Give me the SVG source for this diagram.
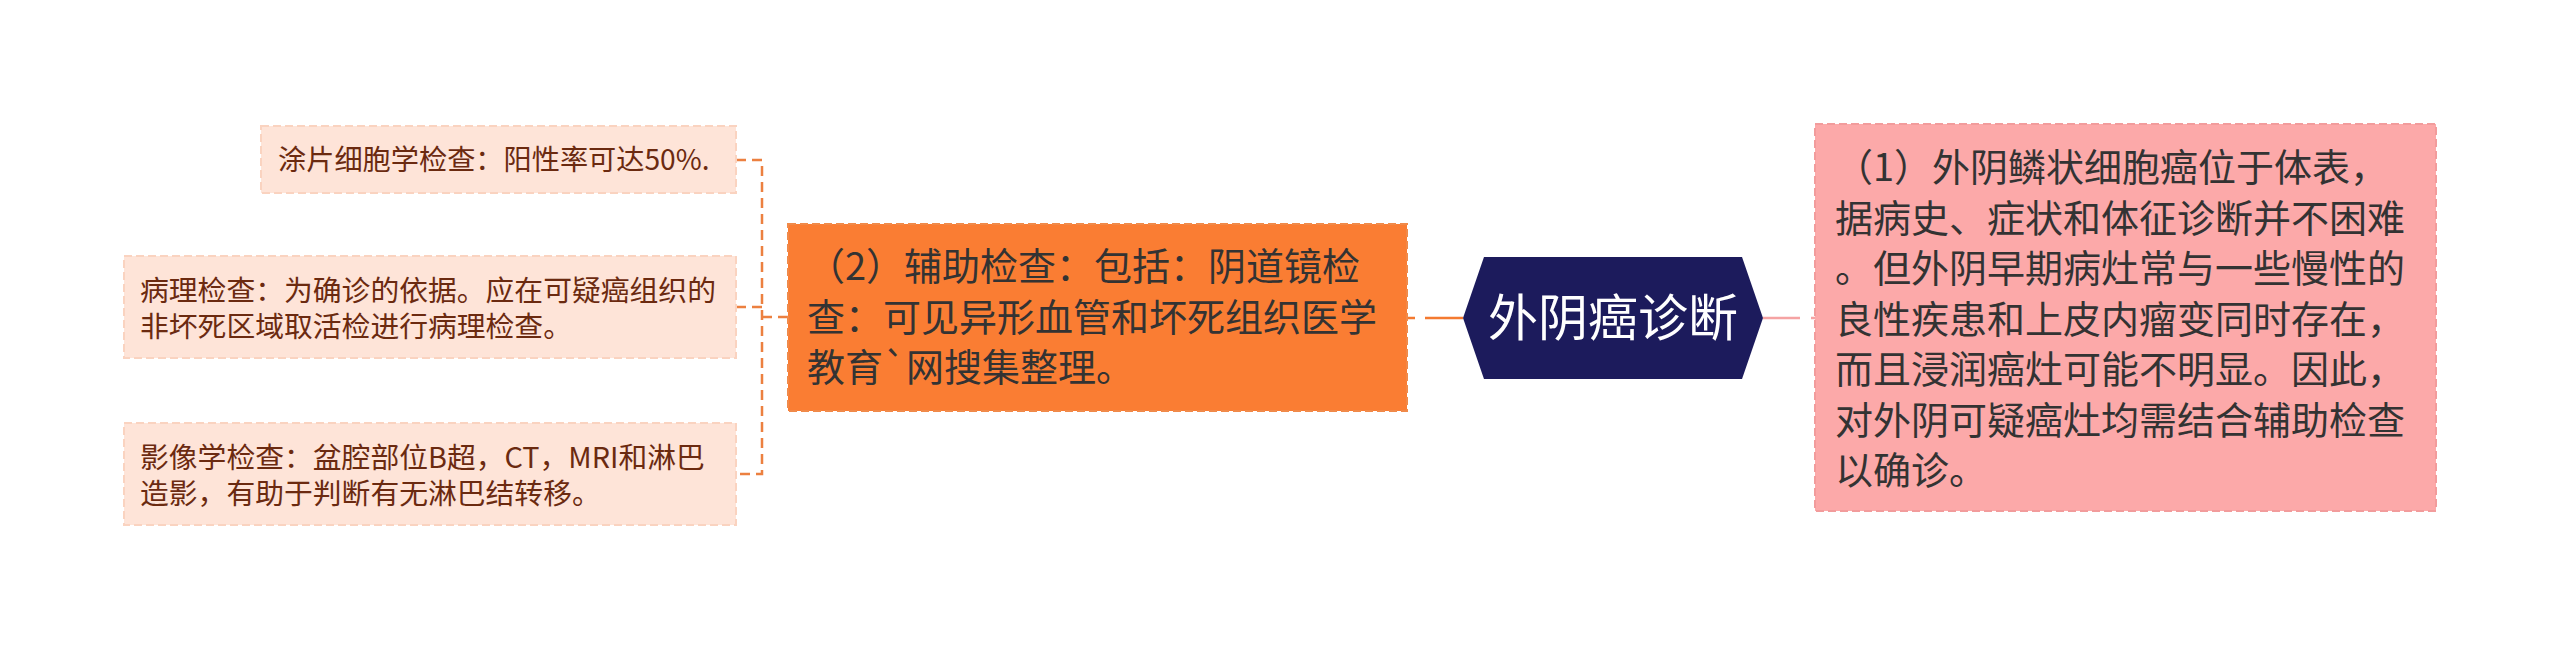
<svg xmlns="http://www.w3.org/2000/svg" width="2560" height="651" viewBox="0 0 2560 651">
<style>
.t{font-family:"Noto Sans CJK SC","Noto Sans",sans-serif}
.leaf rect{fill:#FEE4D8;stroke:#FAD3C0;stroke-width:2;stroke-dasharray:8 4}
.leaf text{font-size:28.8px;fill:#6B2A10}
.big text{font-size:38px;fill:#333333}
.con{fill:none;stroke-width:2.5}
</style>
<rect width="2560" height="651" fill="#ffffff"/>
<g id="connectors">
<path class="con" d="M736 160 H762 V474 H736 M736 307 H762 M762 317 H788" stroke="#EC8040" stroke-dasharray="10 6"/>
<path class="con" d="M1463 318 H1408" stroke="#F47A30" stroke-dasharray="38 10"/>
<path class="con" d="M1763 318 H1815" stroke="#F5A3A3" stroke-dasharray="37 11"/>
</g>
<g id="node-root">
<polygon points="1463,318 1484,257 1742,257 1763,318 1742,379 1484,379" fill="#1C1B5C"/>
<text class="t" x="1613" y="336" text-anchor="middle" font-size="50" fill="#ffffff">外阴癌诊断</text>
</g>
<g id="node-1" class="big">
<rect x="1815" y="124" width="621" height="387" fill="#FCA9A9" stroke="#F29C9C" stroke-width="2" stroke-dasharray="8 4"/>
<text class="t" x="1835" y="181">（1）外阴鳞状细胞癌位于体表，</text>
<text class="t" x="1835" y="231.5">据病史、症状和体征诊断并不困难</text>
<text class="t" x="1835" y="282">。但外阴早期病灶常与一些慢性的</text>
<text class="t" x="1835" y="332.5">良性疾患和上皮内瘤变同时存在，</text>
<text class="t" x="1835" y="383">而且浸润癌灶可能不明显。因此，</text>
<text class="t" x="1835" y="433.5">对外阴可疑癌灶均需结合辅助检查</text>
<text class="t" x="1835" y="484">以确诊。</text>
</g>
<g id="node-2" class="big">
<rect x="788" y="224" width="619" height="187" fill="#FA7D33" stroke="#F08A4A" stroke-width="2" stroke-dasharray="8 4"/>
<text class="t" x="807" y="280">（2）辅助检查：包括：阴道镜检</text>
<text class="t" x="807" y="330.5">查：可见异形血管和坏死组织医学</text>
<text class="t" x="807" y="381">教育`网搜集整理。</text>
</g>
<g id="node-2-1" class="leaf">
<rect x="261" y="126" width="475" height="67"/>
<text class="t" x="278" y="169.5" style="font-size:28.2px">涂片细胞学检查：阳性率可达50%.</text>
</g>
<g id="node-2-2" class="leaf">
<rect x="124" y="256" width="612" height="102"/>
<text class="t" x="140" y="301">病理检查：为确诊的依据。应在可疑癌组织的</text>
<text class="t" x="140" y="337">非坏死区域取活检进行病理检查。</text>
</g>
<g id="node-2-3" class="leaf">
<rect x="124" y="423" width="612" height="102"/>
<text class="t" x="140" y="468">影像学检查：盆腔部位B超，CT，MRI和淋巴</text>
<text class="t" x="140" y="504">造影，有助于判断有无淋巴结转移。</text>
</g>
</svg>
